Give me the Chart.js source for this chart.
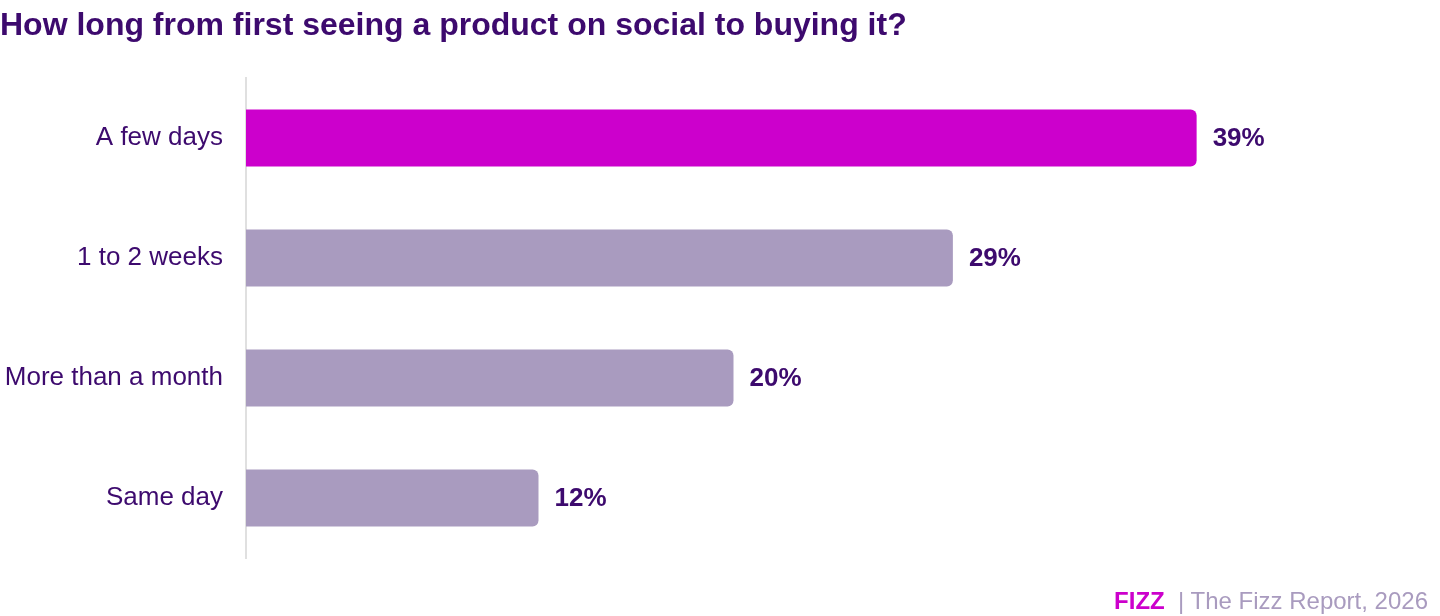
<!DOCTYPE html>
<html>
<head>
<meta charset="utf-8">
<script src="https://cdn.jsdelivr.net/npm/chart.js@4"></script>
<style>
    html, body { margin: 0; padding: 0; background: #ffffff; }
    body { width: 1440px; height: 616px; position: relative; overflow: hidden; font-family: "Liberation Sans", Arial, sans-serif; }
    #titulo { position: absolute; left: 0; top: 6px; font-size: 32px; font-weight: bold; color: #3d0a6e; white-space: nowrap; }
    #rodape { position: absolute; right: 12px; top: 587px; font-size: 24px; color: #a99bbf; white-space: nowrap; }
    #rodape b { color: #cc00cc; }
    #wrap { position: absolute; left: 0; top: 0; width: 1440px; height: 616px; }
</style>
</head>
<body>
<div id="wrap"><canvas id="chartTempo"></canvas></div>
<div id="titulo">How long from first seeing a product on social to buying it?</div>
<div id="rodape"><b>FIZZ</b>&nbsp; | The Fizz Report, 2026</div>
<script>
const categorias = ["A few days", "1 to 2 weeks", "More than a month", "Same day"];
const percentuais = [39, 29, 20, 12];
const cores = ["#cc00cc", "#a99bbf", "#a99bbf", "#a99bbf"];

const corTexto = "#3d0a6e";

const rotulosValor = {
    id: "rotulosValor",
    afterDatasetsDraw(chart) {
        const ctx = chart.ctx;
        const meta = chart.getDatasetMeta(0);
        ctx.save();
        ctx.font = "bold 26px 'Liberation Sans', Arial, sans-serif";
        ctx.fillStyle = corTexto;
        ctx.textAlign = "left";
        ctx.textBaseline = "middle";
        meta.data.forEach((bar, i) => {
            ctx.fillText(percentuais[i] + "%", bar.x + 16, bar.y + 1);
        });
        ctx.restore();
    },
};

new Chart(document.getElementById("chartTempo").getContext("2d"), {
    type: "bar",
    data: {
        labels: categorias,
        datasets: [
            {
                data: percentuais,
                backgroundColor: cores,
                borderRadius: 6,
                borderSkipped: "start",
                categoryPercentage: 1,
                barPercentage: 0.475,
            },
        ],
    },
    options: {
        indexAxis: "y",
        responsive: true,
        maintainAspectRatio: false,
        animation: false,
        layout: { padding: { top: 78, bottom: 58, left: 0, right: 24 } },
        plugins: {
            legend: { display: false },
            tooltip: { enabled: false },
        },
        scales: {
            x: { display: false, min: 0, max: 48 },
            y: {
                grid: { display: false },
                border: { display: true, color: "#e0e0e0", width: 2 },
                ticks: {
                    color: corTexto,
                    padding: 15,
                    font: { family: "'Liberation Sans', Arial, sans-serif", size: 26 },
                },
                afterFit: (scale) => { scale.width = 246; },
            },
        },
    },
    plugins: [rotulosValor],
});
</script>
</body>
</html>
